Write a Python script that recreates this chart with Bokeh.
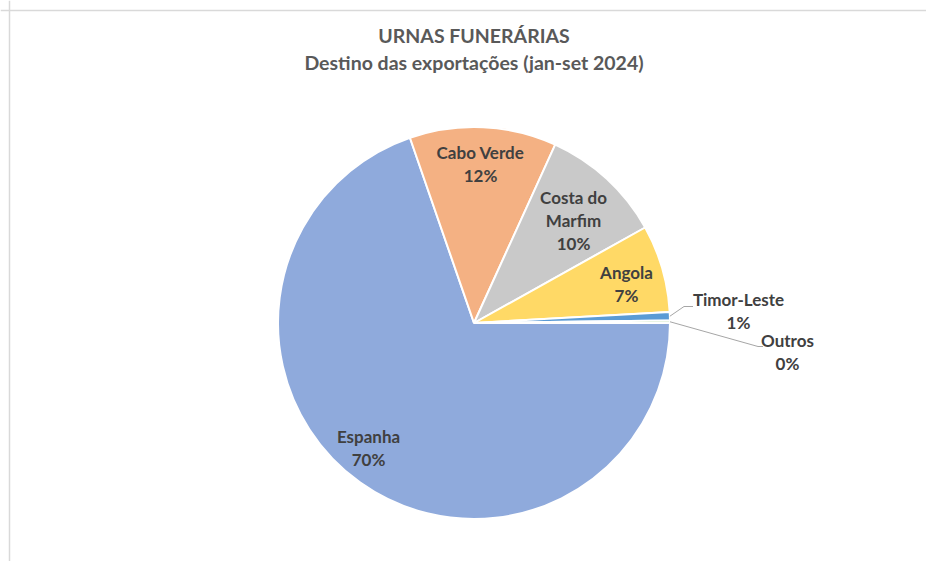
import math
from bokeh.plotting import figure
from bokeh.models import Range1d, Span, ColumnDataSource
from bokeh.embed import file_html
from bokeh.resources import INLINE
from bokeh.core.properties import value

# ---- data ----
title_lines = ["URNAS FUNERÁRIAS", "Destino das exportações (jan-set 2024)"]
countries = ["Espanha", "Cabo Verde", "Costa do Marfim", "Angola", "Timor-Leste", "Outros"]
shares = [69.7, 12.1, 10.1, 7.2, 0.7, 0.2]
label_lines = [["Espanha"], ["Cabo Verde"], ["Costa do", "Marfim"], ["Angola"], ["Timor-Leste"], ["Outros"]]
colors = ["#8FAADC", "#F4B183", "#C9C9C9", "#FFD966", "#5B9BD5", "#A9D18E"]

# ---- layout (pixels) ----
W, H = 926, 561
cx, cy, R = 473.5, 238.5, 196
# label block centre offsets from pie centre (screen dx, screen dy downward)
label_off = [(-105.5, 125), (6.5, -159), (99.5, -103), (152.5, -39.5), (264.5, -12), (313.5, 29)]
# leader lines: (elbow, end) offsets, None = no leader
leaders = [None, None, None, None, ((210, -16.5), (219, -16.5)), ((284, 23.5), (289, 23.5))]
LINE_H = 23
FONT = "Lato"

p = figure(width=W, height=H, x_range=Range1d(0, W), y_range=Range1d(0, H),
           output_backend="svg", toolbar_location=None, min_border=0,
           x_axis_location=None, y_axis_location=None)
p.grid.visible = False
p.outline_line_color = None
p.background_fill_color = "white"
p.border_fill_color = "white"

# chart frame (top and left edges visible)
p.add_layout(Span(location=H - 10, dimension="width", line_color="#D9D9D9", line_width=1.5))
p.add_layout(Span(location=9, dimension="height", line_color="#D9D9D9", line_width=1.5))

total = sum(shares)
starts, ends, mids = [], [], []
acc = 0.0
for v in shares:
    a0 = -2 * math.pi * acc / total
    acc += v
    a1 = -2 * math.pi * acc / total
    starts.append(a0)
    ends.append(a1)
    mids.append((a0 + a1) / 2)

src = ColumnDataSource(dict(start=starts, end=ends, color=colors, name=countries))
p.wedge(x=cx, y=cy, radius=R, start_angle="start", end_angle="end", direction="clock",
        fill_color="color", line_color="white", line_width=2, source=src)

# leader lines
for i, ld in enumerate(leaders):
    if ld is None:
        continue
    sx = cx + R * math.cos(mids[i])
    sy = cy + R * math.sin(mids[i])
    (ex, ey), (fx, fy) = ld
    p.line([sx, cx + ex, cx + fx], [sy, cy - ey, cy - fy], line_color="#A6A6A6", line_width=1)

# data labels
tx, ty, tt = [], [], []
for i, lines in enumerate(label_lines):
    pct = f"{round(shares[i] / total * 100):.0f}%"
    all_lines = lines + [pct]
    n = len(all_lines)
    ox, oy = label_off[i]
    for k, s in enumerate(all_lines):
        tx.append(cx + ox)
        ty.append(cy - (oy + (k - (n - 1) / 2) * LINE_H))
        tt.append(s)
p.text(x=tx, y=ty, text=tt, text_font=value(FONT), text_font_style="bold",
       text_font_size="17px", text_color="#404040", text_align="center", text_baseline="middle")

# title
p.text(x=[cx, cx], y=[H - 35, H - 62], text=title_lines, text_font=value(FONT),
       text_font_style="bold", text_font_size="19.5px", text_color="#595959",
       text_align="center", text_baseline="middle")

open("out.html", "w").write(file_html(p, INLINE))
